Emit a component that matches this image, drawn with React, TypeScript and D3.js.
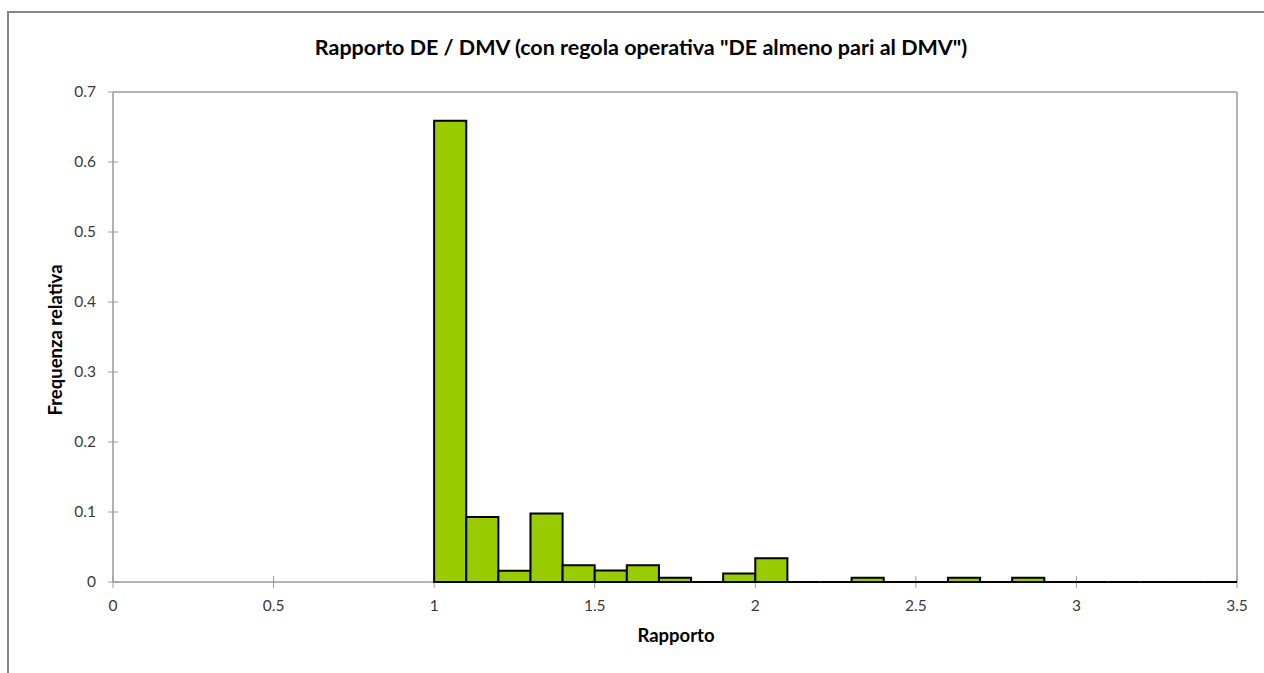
import React from "react";
import * as d3 from "d3";

const binStarts: number[] = [1.0, 1.1, 1.2, 1.3, 1.4, 1.5, 1.6, 1.7, 1.8, 1.9, 2.0, 2.1, 2.2, 2.3, 2.4, 2.5, 2.6, 2.7, 2.8, 2.9, 3.0, 3.1, 3.2, 3.3, 3.4];
const binValues: number[] = [0.659, 0.093, 0.016, 0.098, 0.024, 0.0165, 0.024, 0.006, 0, 0.012, 0.034, 0, 0, 0.006, 0, 0, 0.006, 0, 0.006, 0, 0, 0, 0, 0, 0];
const binWidth = 0.1;
const xTicks: number[] = [0, 0.5, 1, 1.5, 2, 2.5, 3, 3.5];
const yTicks: number[] = [0, 0.1, 0.2, 0.3, 0.4, 0.5, 0.6, 0.7];
const title = 'Rapporto DE / DMV (con regola operativa "DE almeno pari al DMV")';
const xLabel = "Rapporto";
const yLabel = "Frequenza relativa";

const W = 1264;
const H = 673;
const plot = { left: 113, top: 92, right: 1237, bottom: 582 };
const FONT = "Lato, 'Open Sans', sans-serif";

export default function App() {
  const x = d3.scaleLinear().domain([0, 3.5]).range([plot.left, plot.right]);
  const y = d3.scaleLinear().domain([0, 0.7]).range([plot.bottom, plot.top]);
  const axisColor = "#9a9a9a";
  const textColor = "#3a3a3a";

  const barPath = (s: number, v: number) => {
    const p = d3.path();
    const x0 = x(s);
    const x1 = x(s + binWidth);
    const y0 = y(v);
    p.moveTo(x0, plot.bottom);
    p.lineTo(x0, y0);
    p.lineTo(x1, y0);
    p.lineTo(x1, plot.bottom);
    p.closePath();
    return p.toString();
  };

  return (
    <svg
      width={W}
      height={H}
      style={{ position: "absolute", left: 0, top: 0, background: "#fff" }}
    >
      <rect x={0} y={0} width={W} height={H} fill="#fff" />
      {/* outer chart frame */}
      <rect x={8} y={12} width={W + 50} height={H + 50} fill="none" stroke="#868686" strokeWidth={2} />

      {/* plot area border (top & right) */}
      <line x1={plot.left} x2={plot.right} y1={plot.top} y2={plot.top} stroke={axisColor} strokeWidth={1.5} />
      <line x1={plot.right} x2={plot.right} y1={plot.top} y2={plot.bottom} stroke={axisColor} strokeWidth={1.5} />

      {/* y axis */}
      <line x1={plot.left} x2={plot.left} y1={plot.top} y2={plot.bottom} stroke={axisColor} strokeWidth={1.5} />
      {yTicks.map((t) => (
        <g key={"y" + t}>
          <line x1={plot.left - 5} x2={plot.left + (t === 0.7 ? 0 : 5)} y1={y(t)} y2={y(t)} stroke={axisColor} strokeWidth={1} />
          <text x={plot.left - 17} y={y(t)} dy="0.35em" textAnchor="end" fontFamily={FONT} fontSize={15.5} fill={textColor}>
            {d3.format("")(t)}
          </text>
        </g>
      ))}

      {/* x axis */}
      <line x1={plot.left} x2={plot.right} y1={plot.bottom} y2={plot.bottom} stroke={axisColor} strokeWidth={1.5} />
      {xTicks.map((t) => (
        <g key={"x" + t}>
          <line x1={x(t)} x2={x(t)} y1={plot.bottom - 6} y2={plot.bottom + 6} stroke={axisColor} strokeWidth={1} />
          <text x={x(t)} y={plot.bottom + 29} textAnchor="middle" fontFamily={FONT} fontSize={15.5} fill={textColor}>
            {d3.format("")(t)}
          </text>
        </g>
      ))}

      {/* bars */}
      {binStarts.map((s, i) => (
        <path
          key={"b" + i}
          d={barPath(s, binValues[i])}
          fill="#99CC00"
          stroke="#000"
          strokeWidth={2}
          strokeLinejoin="miter"
        />
      ))}

      {/* title */}
      <text x={641} y={55} textAnchor="middle" fontFamily={FONT} fontWeight="bold" fontSize={21.5} fill="#000">
        {title}
      </text>
      {/* axis titles */}
      <text x={676} y={642} textAnchor="middle" fontFamily={FONT} fontWeight="bold" fontSize={18.5} fill="#000">
        {xLabel}
      </text>
      <text
        transform={`translate(62, ${340}) rotate(-90)`}
        textAnchor="middle"
        fontFamily={FONT}
        fontWeight="bold"
        fontSize={18.5}
        fill="#000"
      >
        {yLabel}
      </text>
    </svg>
  );
}
